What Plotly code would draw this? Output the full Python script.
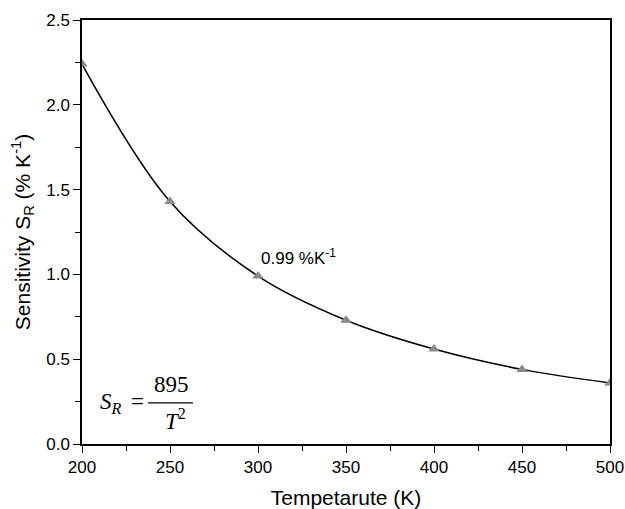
import plotly.graph_objects as go

temperature = [200, 250, 300, 350, 400, 450, 500]
sensitivity = [2.24, 1.43, 0.99, 0.73, 0.56, 0.44, 0.36]

x_ticks = [200, 250, 300, 350, 400, 450, 500]
y_ticks = [0.0, 0.5, 1.0, 1.5, 2.0, 2.5]

fig = go.Figure()
fig.add_trace(go.Scatter(
    x=temperature, y=sensitivity, mode="lines",
    line=dict(color="black", width=1.5, shape="spline", smoothing=1.0),
    showlegend=False, hoverinfo="skip"))
fig.add_trace(go.Scatter(
    x=temperature, y=sensitivity, mode="markers",
    marker=dict(symbol="triangle-up", size=10, color="#8a8a8a"),
    showlegend=False))

axis_common = dict(
    showline=True, linecolor="black", linewidth=1.5, mirror=True,
    ticks="outside", ticklen=7, tickwidth=1.3, tickcolor="black",
    showgrid=False, zeroline=False, automargin=False,
    tickfont=dict(family="Liberation Sans", size=17, color="black"),
)

fig.update_xaxes(range=[200, 500], tickvals=x_ticks,
                 ticktext=[str(v) for v in x_ticks],
                 minor=dict(dtick=25, tick0=200, ticks="outside", ticklen=5, tickcolor="black", tickwidth=1.3),
                 title=dict(text="Tempetarute (K)", font=dict(family="Liberation Sans", size=21, color="black"), standoff=14),
                 **axis_common)
fig.update_yaxes(range=[0, 2.5], tickvals=y_ticks,
                 ticktext=[f"{v:.1f}" for v in y_ticks],
                 minor=dict(dtick=0.25, tick0=0, ticks="outside", ticklen=5, tickcolor="black", tickwidth=1.3),
                 title=dict(text="Sensitivity S<sub>R</sub> (% K<sup>-1</sup>)", font=dict(family="Liberation Sans", size=21, color="black"), standoff=10),
                 **axis_common)

fig.add_annotation(x=300.6, y=1.1, xref="x", yref="y", text="0.99 %K<sup>-1</sup>",
                   showarrow=False, xanchor="left", yanchor="middle",
                   font=dict(family="Liberation Sans", size=17, color="black"))

serif = dict(family="Liberation Serif", size=23, color="black")
fig.add_annotation(x=0.055, y=0.097, xref="paper", yref="paper",
                   text="<i>S<sub>R</sub></i>", showarrow=False,
                   xanchor="center", yanchor="middle", font=serif)
fig.add_annotation(x=0.106, y=0.100, xref="paper", yref="paper",
                   text="=", showarrow=False,
                   xanchor="center", yanchor="middle", font=serif)
fig.add_annotation(x=0.169, y=0.141, xref="paper", yref="paper",
                   text="895", showarrow=False,
                   xanchor="center", yanchor="middle", font=serif)
fig.add_annotation(x=0.177, y=0.057, xref="paper", yref="paper",
                   text="<i>T</i><sup>2</sup>", showarrow=False,
                   xanchor="center", yanchor="middle", font=serif)
fig.add_shape(type="line", xref="paper", yref="paper",
              x0=0.125, x1=0.210, y0=0.097, y1=0.097,
              line=dict(color="black", width=1.3))

fig.update_layout(
    width=625, height=509,
    margin=dict(l=82, r=15, t=20, b=65),
    paper_bgcolor="white", plot_bgcolor="white",
)

# remove the browser's default 8px body margin so the figure fills the window
fig.write_html("out.html",
               config={"displayModeBar": False},
               post_script="document.body.style.margin='0';document.body.style.overflow='hidden';")
